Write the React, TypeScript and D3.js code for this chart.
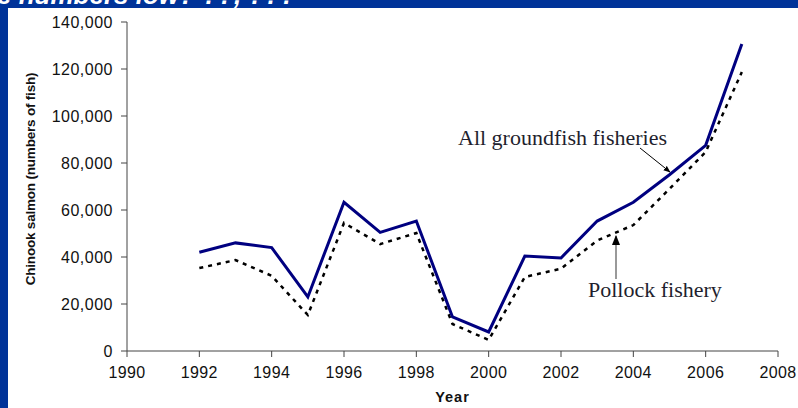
import React from "react";
import * as d3 from "d3";

// Chinook salmon bycatch, 1992–2007
const years = [1992, 1993, 1994, 1995, 1996, 1997, 1998, 1999, 2000, 2001, 2002, 2003, 2004, 2005, 2006, 2007];
const allGroundfish = [42000, 46000, 44000, 23000, 63300, 50500, 55300, 14500, 8100, 40400, 39600, 55300, 63300, 75000, 87500, 130600];
const pollock = [35300, 38700, 32000, 15300, 54500, 45500, 50200, 11500, 4700, 31500, 35000, 47000, 53600, 69000, 84700, 118700];
const yTicks = [0, 20000, 40000, 60000, 80000, 100000, 120000, 140000];
const xTicks = [1990, 1992, 1994, 1996, 1998, 2000, 2002, 2004, 2006, 2008];

const W = 798;
const H = 408;
const left = 127;
const right = 778;
const top = 22;
const bottom = 351;

export default function App() {
  const x = d3.scaleLinear().domain([1990, 2008]).range([left, right]);
  const y = d3.scaleLinear().domain([0, 140000]).range([bottom, top]);
  const line = d3
    .line<[number, number]>()
    .x((d) => x(d[0]))
    .y((d) => y(d[1]));
  const allPath = line(years.map((yr, i) => [yr, allGroundfish[i]]) as [number, number][]) || "";
  const polPath = line(years.map((yr, i) => [yr, pollock[i]]) as [number, number][]) || "";
  const fmt = d3.format(",");
  const sans = "Arial, 'Liberation Sans', sans-serif";
  const serif = "Garamond, 'Liberation Serif', serif";

  return (
    <svg
      width={W}
      height={H}
      viewBox={`0 0 ${W} ${H}`}
      style={{ position: "fixed", left: 0, top: 0, background: "#fff" }}
    >
      <defs>
        <marker id="ah" viewBox="0 0 10 10" refX="9" refY="5" markerWidth="7" markerHeight="7" orient="auto-start-reverse">
          <path d="M0,1 L10,5 L0,9 z" fill="#000" />
        </marker>
      </defs>
      <rect x={0} y={0} width={W} height={H} fill="#fff" />
      {/* slide frame */}
      <rect x={0} y={0} width={8} height={H} fill="#003399" />
      <rect x={0} y={0} width={W} height={8} fill="#003399" />
      <text x={-3} y={4} fill="#fff" fontFamily={sans} fontWeight="bold" fontStyle="italic" fontSize={26}>
        e numbers low? ??, ???
      </text>

      {/* y axis */}
      <line x1={left} x2={left} y1={top} y2={bottom} stroke="#444" strokeWidth={1} />
      {yTicks.map((t) => (
        <g key={t}>
          <line x1={left - 6} x2={left} y1={y(t)} y2={y(t)} stroke="#444" />
          <text x={left - 14} y={y(t) + 5.5} textAnchor="end" fontFamily={sans} fontSize={16} letterSpacing={0.5} fill="#111">
            {fmt(t)}
          </text>
        </g>
      ))}
      {/* x axis */}
      <line x1={left} x2={right} y1={bottom} y2={bottom} stroke="#444" strokeWidth={1} />
      {xTicks.map((t) => (
        <g key={t}>
          <line x1={x(t)} x2={x(t)} y1={bottom} y2={bottom + 6} stroke="#444" />
          <text x={x(t)} y={378} textAnchor="middle" fontFamily={sans} fontSize={16} letterSpacing={0.4} fill="#111">
            {t}
          </text>
        </g>
      ))}
      <text x={(left + right) / 2} y={402} textAnchor="middle" fontFamily={sans} fontWeight="bold" fontSize={14.5} letterSpacing={1} fill="#111">
        Year
      </text>
      <text
        transform={`translate(35,179) rotate(-90)`}
        textAnchor="middle"
        fontFamily={sans}
        fontWeight="bold"
        fontSize={13.5}
        letterSpacing={-0.2}
        fill="#111"
      >
        Chinook salmon (numbers of fish)
      </text>

      {/* series */}
      <path d={polPath} fill="none" stroke="#000" strokeWidth={2.5} strokeDasharray="4,5" />
      <path d={allPath} fill="none" stroke="#000080" strokeWidth={3} strokeLinejoin="miter" />

      {/* annotations */}
      <text x={458} y={145} fontFamily={serif} fontSize={22} fill="#1f1f2e">
        All groundfish fisheries
      </text>
      <line x1={640} y1={148} x2={670} y2={172} stroke="#000" strokeWidth={1} markerEnd="url(#ah)" />
      <text x={588} y={297} fontFamily={serif} fontSize={22} fill="#1f1f2e">
        Pollock fishery
      </text>
      <line x1={616} y1={279} x2={616} y2={236} stroke="#777" strokeWidth={1.5} markerEnd="url(#ah)" />
    </svg>
  );
}
